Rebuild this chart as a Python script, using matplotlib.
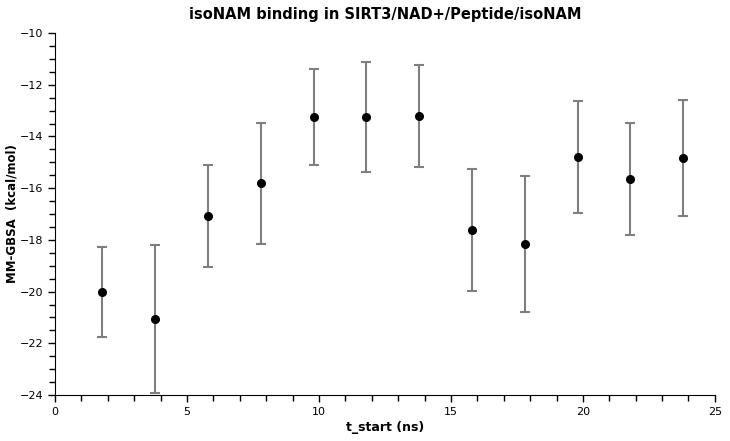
import matplotlib
matplotlib.use("Agg")
import matplotlib.pyplot as plt
from matplotlib.ticker import MultipleLocator

# t_start windows (ns) and MM-GBSA binding energies
t_start = [1.8, 3.8, 5.8, 7.8, 9.8, 11.8, 13.8, 15.8, 17.8, 19.8, 21.8, 23.8]
dg = [-20.02, -21.06, -17.08, -15.80, -13.25, -13.25, -13.20, -17.62, -18.15, -14.80, -15.66, -14.83]
err = [1.74, 2.88, 1.97, 2.34, 1.86, 2.13, 1.97, 2.36, 2.62, 2.17, 2.17, 2.23]

plt.rcParams['font.family'] = ['DejaVu Sans']

fig = plt.figure(figsize=(7.3, 4.41), dpi=100)
ax = fig.add_axes([0.0753, 0.1043, 0.904, 0.8207])

ax.errorbar(t_start, dg, yerr=err, fmt='none', ecolor='#7f7f7f',
            elinewidth=1.5, capsize=3.5, capthick=1.5)
ax.plot(t_start, dg, 'o', color='black', markersize=5.5)

ax.set_xlim(0, 25)
ax.set_ylim(-24, -10)
ax.xaxis.set_major_locator(MultipleLocator(5))
ax.xaxis.set_minor_locator(MultipleLocator(1))
ax.yaxis.set_major_locator(MultipleLocator(2))
ax.yaxis.set_minor_locator(MultipleLocator(0.5))
ax.tick_params(which='both', direction='out', labelsize=8, width=1)
ax.tick_params(which='major', length=5)
ax.tick_params(which='minor', length=4)

for s in ['top', 'right']:
    ax.spines[s].set_visible(False)

ax.set_title("isoNAM binding in SIRT3/NAD+/Peptide/isoNAM", fontsize=10.5,
             fontweight='bold', pad=10)
ax.set_xlabel("t_start (ns)", fontsize=9, fontweight='bold', labelpad=3)
ax.set_ylabel("MM-GBSA  (kcal/mol)", fontsize=8.5, fontweight='bold', labelpad=1)

fig.savefig("out.png", dpi=100)
